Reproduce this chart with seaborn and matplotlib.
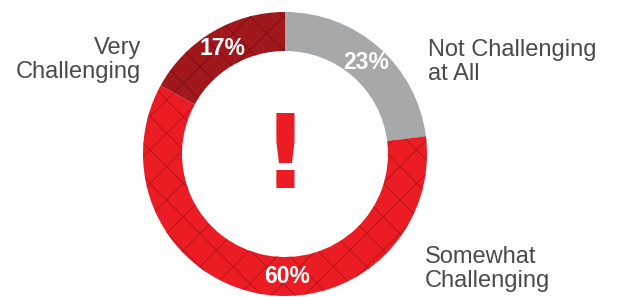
import matplotlib
matplotlib.use("Agg")
import matplotlib.pyplot as plt
import seaborn as sns
import numpy as np

sns.set_theme(style="white")
plt.rcParams['font.family'] = ['Liberation Sans', 'DejaVu Sans']
plt.rcParams['hatch.linewidth'] = 0.7

categories = ["Not Challenging\nat All", "Somewhat\nChallenging", "Very\nChallenging"]
values = [23, 60, 17]
colors = ["#a7a8aa", "#ec1c24", "#a0171c"]
texture = [None, "#b8151c", "#7e1014"]

fig = plt.figure(figsize=(6.19, 2.97), dpi=100)
ax = fig.add_axes([0, 0, 1, 1])

cx, cy, R = 285, 143, 142
width = 39

wedges, _ = ax.pie(values, colors=colors, startangle=90, counterclock=False,
                   center=(cx, cy), radius=R,
                   wedgeprops=dict(width=width, linewidth=0), frame=True)
# texture overlay
for w, tc in zip(wedges, texture):
    if tc is None:
        continue
    ov = matplotlib.patches.Wedge((cx, cy), R, w.theta1, w.theta2, width=width,
                                  facecolor="none", edgecolor=tc, linewidth=0,
                                  hatch="x")
    ax.add_patch(ov)

ax.set_xlim(0, 619)
ax.set_ylim(0, 297)
ax.set_aspect("equal")
ax.axis("off")

# percentage labels
rmid = R - width / 2
start = 90
angles = []
for v in values:
    ang = start - v * 3.6 / 2
    angles.append(ang)
    start -= v * 3.6
angles[1] = -89  # 60% label sits near the bottom
for v, a in zip(values, angles):
    x = cx + rmid * np.cos(np.radians(a))
    y = cy + rmid * np.sin(np.radians(a))
    ax.text(x, y, f"{v}%", color="white", fontsize=16.5, fontweight="bold",
            ha="center", va="center")

# category labels
lab_color = "#4a4a4c"
ax.text(428, 235, categories[0], ha="left", va="center", fontsize=17,
        color=lab_color, linespacing=1.15)
ax.text(425, 28, categories[1], ha="left", va="center", fontsize=17,
        color=lab_color, linespacing=1.15)
ax.text(141, 237, categories[2], ha="right", va="center", fontsize=17,
        color=lab_color, linespacing=1.15, multialignment="right")

# exclamation mark
ax.text(cx, cy - 5, "!", ha="center", va="center", fontsize=74,
        fontweight="bold", color="#ec1c24", family="DejaVu Sans")

fig.savefig("out.png", dpi=100)
